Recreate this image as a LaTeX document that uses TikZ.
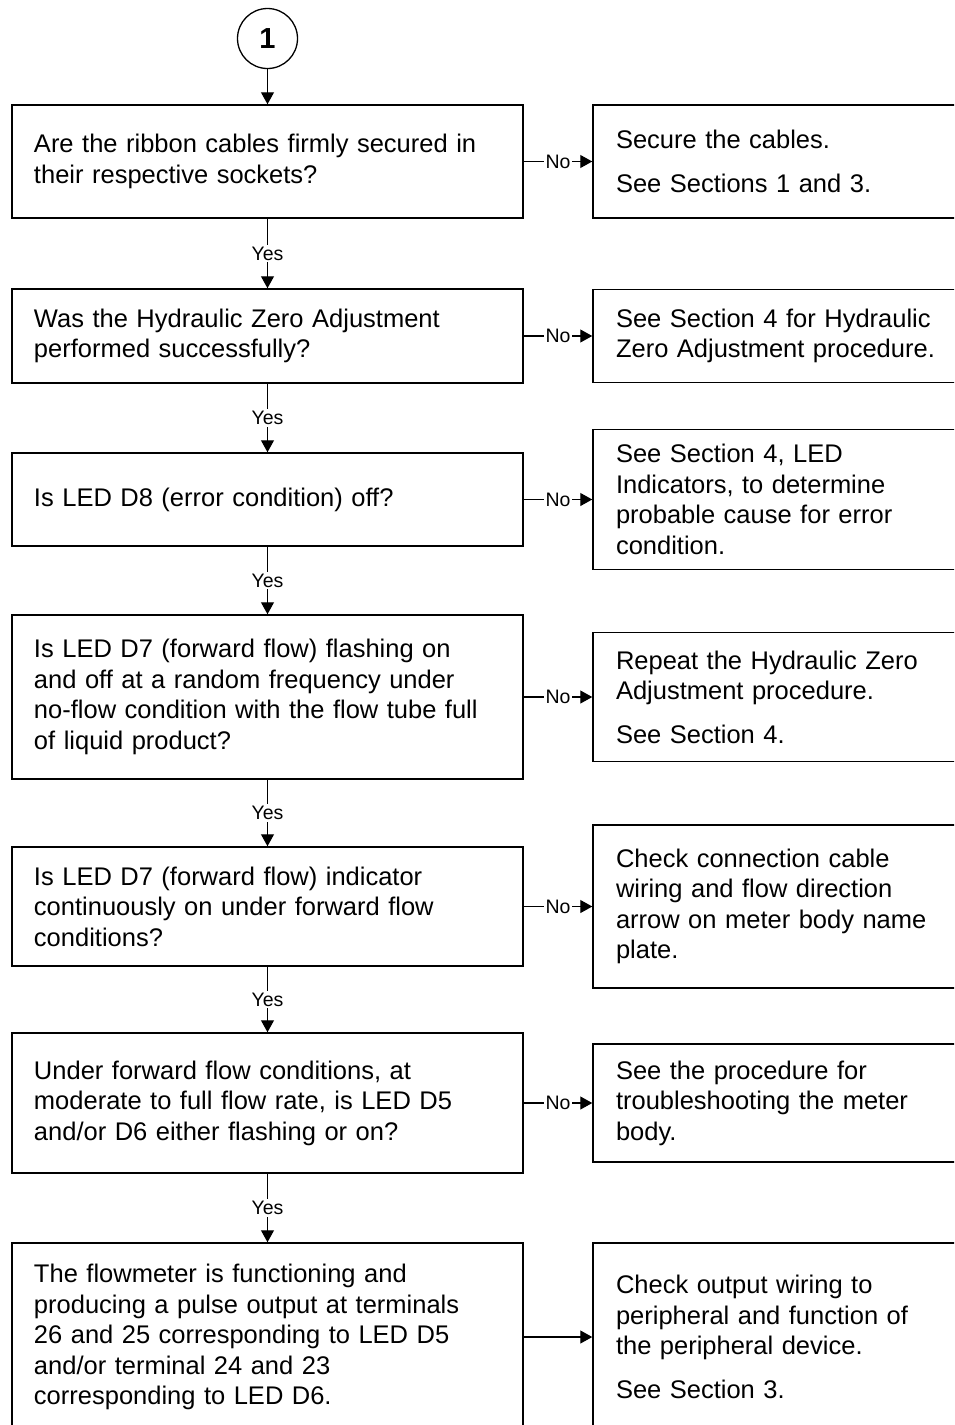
\documentclass[tikz,border=0pt]{standalone}
\usepackage{fontspec}
\setmainfont{Liberation Sans}
\usetikzlibrary{arrows.meta, positioning}

\begin{document}
\begin{tikzpicture}[x=1pt, y=-1pt,
		every node/.style={font=\fontsize{25.5}{30.5}\selectfont},
		qbox/.style={draw, line width=1.5pt, text width=467pt, inner xsep=22pt, align=left},
		abox/.style={draw, line width=1.5pt, text width=344pt, inner xsep=23pt, align=left},
		flow/.style={line width=1.2pt, -{Triangle[length=12pt, width=13pt]}},
		tag/.style={fill=white, inner sep=2pt, font=\fontsize{19.5}{22}\selectfont}]
			\useasboundingbox (0,0) rectangle (954,1425);
			\clip (0,0) rectangle (954,1425);
			
			% start marker
			\node[draw, circle, line width=1.3pt, minimum size=60pt, inner sep=0pt,
				font=\fontsize{29}{30}\selectfont\bfseries] (start) at (267.5,38.5) {1};
			
			% questions
			\node[qbox, minimum height=113pt] (q1) at (267.5,161.5) {Are the ribbon cables firmly secured in\\ their respective sockets?};
			\node[qbox, minimum height=94pt] (q2) at (267.5,336) {Was the Hydraulic Zero Adjustment\\ performed successfully?};
			\node[qbox, minimum height=93pt] (q3) at (267.5,499.5) {Is LED D8 (error condition) off?};
			\node[qbox, minimum height=164pt] (q4) at (267.5,697) {Is LED D7 (forward flow) flashing on\\ and off at a random frequency under\\ no-flow condition with the flow tube full\\ of liquid product?};
			\node[qbox, minimum height=119pt] (q5) at (267.5,906.5) {Is LED D7 (forward flow) indicator\\ continuously on under forward flow\\ conditions?};
			\node[qbox, minimum height=140pt] (q6) at (267.5,1103) {Under forward flow conditions, at\\ moderate to full flow rate, is LED D5\\ and/or D6 either flashing or on?};
			\node[qbox, minimum height=188pt] (q7) at (267.5,1337) {The flowmeter is functioning and\\ producing a pulse output at terminals\\ 26 and 25 corresponding to LED D5\\ and/or terminal 24 and 23\\ corresponding to LED D6.};
			
			% actions
			\node[abox, minimum height=113pt] (a1) at (788,161.5) {Secure the cables.\\[13pt] See Sections 1 and 3.};
			\node[abox, minimum height=93pt] (a2) at (788,336) {See Section 4 for Hydraulic\\ Zero Adjustment procedure.};
			\node[abox, minimum height=140pt] (a3) at (788,499.5) {See Section 4, LED\\ Indicators, to determine\\ probable cause for error\\ condition.};
			\node[abox, minimum height=129pt] (a4) at (788,697) {Repeat the Hydraulic Zero\\ Adjustment procedure.\\[13pt] See Section 4.};
			\node[abox, minimum height=163pt] (a5) at (788,906.5) {Check connection cable\\ wiring and flow direction\\ arrow on meter body name\\ plate.};
			\node[abox, minimum height=118pt] (a6) at (788,1103) {See the procedure for\\ troubleshooting the meter\\ body.};
			\node[abox, minimum height=188pt] (a7) at (788,1337) {Check output wiring to\\ peripheral and function of\\ the peripheral device.\\[13pt] See Section 3.};
			
			% connectors
			\draw[flow] (start) -- (q1);
			\foreach \a/\b in {q1/q2, q2/q3, q3/q4, q4/q5, q5/q6, q6/q7}
				\draw[flow] (\a) -- (\b) node[tag, midway] {Yes};
			\foreach \a/\b in {q1/a1, q2/a2, q3/a3, q4/a4, q5/a5, q6/a6}
				\draw[flow] (\a) -- (\b) node[tag, midway] {No};
			\draw[flow] (q7) -- (a7);
		\end{tikzpicture}
\end{document}
